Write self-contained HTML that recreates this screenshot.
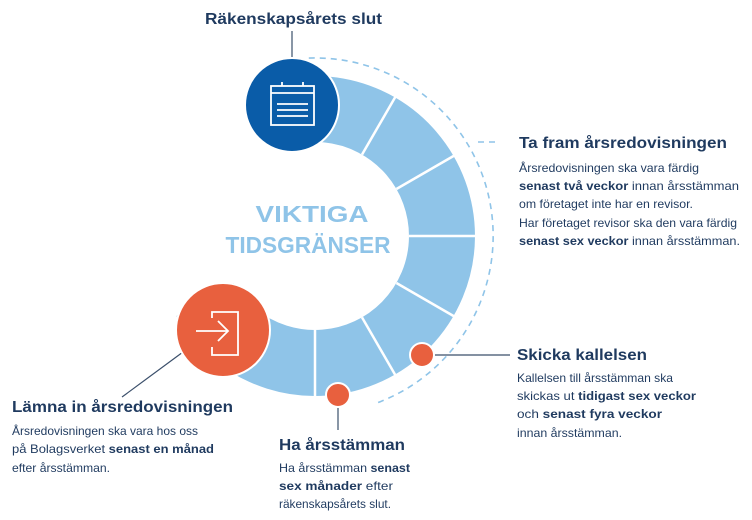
<!DOCTYPE html>
<html><head><meta charset="utf-8"><style>
html,body{margin:0;padding:0;background:#fff;}
svg{display:block;}
text{font-family:"Liberation Sans",sans-serif;fill:#1f3a5f;}
.h{font-weight:bold;font-size:16px;}
.b{font-size:12px;}
.k{font-weight:bold;}
</style></head><body>
<svg width="752" height="520" viewBox="0 0 752 520" xmlns="http://www.w3.org/2000/svg">
<!-- dashed outer arc -->
<path d="M308.8,58.1 A178,178 0 0 1 375.9,403.3" fill="none" stroke="#8fc4e8" stroke-width="1.6" stroke-dasharray="6,5"/>
<line x1="478" y1="142" x2="500" y2="142" stroke="#8fc4e8" stroke-width="1.6" stroke-dasharray="6,5"/>
<!-- ring -->
<path d="M282.1,113.3 A127,127 0 1 1 205,299.5" fill="none" stroke="#8fc4e8" stroke-width="66"/>
<g stroke="#fff" stroke-width="2.5">
<line x1="362" y1="154.6" x2="395.5" y2="96.6"/>
<line x1="396.4" y1="189" x2="454.4" y2="155.5"/>
<line x1="409" y1="236" x2="478" y2="236"/>
<line x1="396.4" y1="283" x2="454.4" y2="316.5"/>
<line x1="362" y1="317.4" x2="395.5" y2="375.4"/>
<line x1="315" y1="330" x2="315" y2="398"/>
</g>
<!-- connector lines -->
<g stroke="#3b4f6b" stroke-width="1.2">
<line x1="292" y1="31" x2="292" y2="58"/>
<line x1="430" y1="355" x2="510" y2="355"/>
<line x1="338" y1="405" x2="338" y2="430"/>
<line x1="183" y1="352" x2="122" y2="397"/>
</g>
<!-- blue circle -->
<circle cx="292" cy="105" r="47" fill="#0a5ca8" stroke="#fff" stroke-width="2"/>
<g stroke="#fff" stroke-width="1.8" fill="none">
<rect x="271" y="86" width="43" height="39"/>
<line x1="271" y1="93" x2="314" y2="93"/>
<line x1="282" y1="82" x2="282" y2="86"/>
<line x1="303" y1="82" x2="303" y2="86"/>
<line x1="277" y1="104" x2="308" y2="104"/>
<line x1="277" y1="110" x2="308" y2="110"/>
<line x1="277" y1="116" x2="308" y2="116"/>
</g>
<!-- orange circle -->
<circle cx="223" cy="330" r="47" fill="#e8603e" stroke="#fff" stroke-width="2"/>
<g stroke="#fff" stroke-width="1.8" fill="none">
<path d="M212,318 V312 H238 V355 H212 V347"/>
<line x1="196" y1="331" x2="228" y2="331"/>
<path d="M218,321 L228,331 L218,341"/>
</g>
<!-- small dots -->
<circle cx="422" cy="355" r="12" fill="#e8603e" stroke="#fff" stroke-width="2"/>
<circle cx="338" cy="395" r="12" fill="#e8603e" stroke="#fff" stroke-width="2"/>
<!-- center text -->
<text x="312" y="222" text-anchor="middle" style="font-weight:bold;font-size:23px;fill:#8fc4e8" textLength="113" lengthAdjust="spacingAndGlyphs">VIKTIGA</text>
<text x="308" y="253" text-anchor="middle" style="font-weight:bold;font-size:23px;fill:#8fc4e8" textLength="165" lengthAdjust="spacingAndGlyphs">TIDSGRÄNSER</text>
<!-- top -->
<text class="h" x="205" y="24" textLength="177" lengthAdjust="spacingAndGlyphs">Räkenskapsårets slut</text>
<!-- right -->
<text class="h" x="519" y="148" textLength="208" lengthAdjust="spacingAndGlyphs">Ta fram årsredovisningen</text>
<text class="b" x="519" y="172" textLength="180" lengthAdjust="spacingAndGlyphs">Årsredovisningen ska vara färdig</text>
<text class="b" x="519" y="190" textLength="220" lengthAdjust="spacingAndGlyphs"><tspan class="k">senast två veckor</tspan> innan årsstämman</text>
<text class="b" x="519" y="208" textLength="174" lengthAdjust="spacingAndGlyphs">om företaget inte har en revisor.</text>
<text class="b" x="519" y="227" textLength="218" lengthAdjust="spacingAndGlyphs">Har företaget revisor ska den vara färdig</text>
<text class="b" x="519" y="245" textLength="221" lengthAdjust="spacingAndGlyphs"><tspan class="k">senast sex veckor</tspan> innan årsstämman.</text>
<!-- skicka -->
<text class="h" x="517" y="360" textLength="130" lengthAdjust="spacingAndGlyphs">Skicka kallelsen</text>
<text class="b" x="517" y="382" textLength="156" lengthAdjust="spacingAndGlyphs">Kallelsen till årsstämman ska</text>
<text class="b" x="517" y="400" textLength="179" lengthAdjust="spacingAndGlyphs">skickas ut <tspan class="k">tidigast sex veckor</tspan></text>
<text class="b" x="517" y="418" textLength="145" lengthAdjust="spacingAndGlyphs">och <tspan class="k">senast fyra veckor</tspan></text>
<text class="b" x="517" y="437" textLength="105" lengthAdjust="spacingAndGlyphs">innan årsstämman.</text>
<!-- ha -->
<text class="h" x="279" y="450" textLength="126" lengthAdjust="spacingAndGlyphs">Ha årsstämman</text>
<text class="b" x="279" y="472" textLength="131" lengthAdjust="spacingAndGlyphs">Ha årsstämman <tspan class="k">senast</tspan></text>
<text class="b" x="279" y="490" textLength="114" lengthAdjust="spacingAndGlyphs"><tspan class="k">sex månader</tspan> efter</text>
<text class="b" x="279" y="508" textLength="112" lengthAdjust="spacingAndGlyphs">räkenskapsårets slut.</text>
<!-- lämna -->
<text class="h" x="12" y="412" textLength="221" lengthAdjust="spacingAndGlyphs">Lämna in årsredovisningen</text>
<text class="b" x="12" y="435" textLength="186" lengthAdjust="spacingAndGlyphs">Årsredovisningen ska vara hos oss</text>
<text class="b" x="12" y="453" textLength="202" lengthAdjust="spacingAndGlyphs">på Bolagsverket <tspan class="k">senast en månad</tspan></text>
<text class="b" x="12" y="472" textLength="98" lengthAdjust="spacingAndGlyphs">efter årsstämman.</text>
</svg>
</body></html>
